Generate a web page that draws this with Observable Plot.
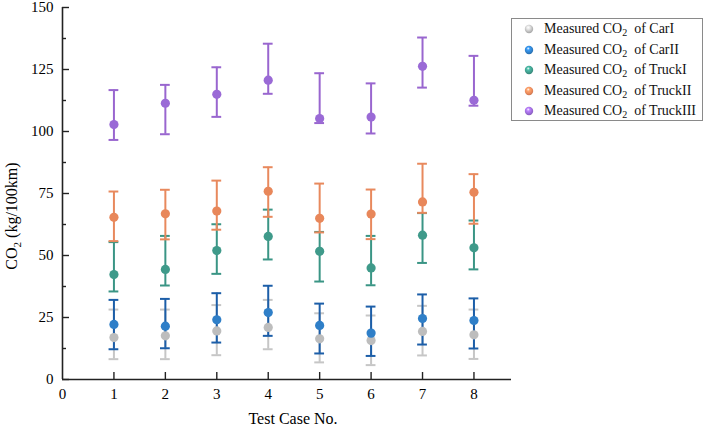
<!DOCTYPE html>
<html>
<head>
<meta charset="utf-8">
<script src="https://cdn.jsdelivr.net/npm/d3@7"></script>
<script src="https://cdn.jsdelivr.net/npm/@observablehq/plot@0.6"></script>
<style>
  body { margin: 0; background: #fff; }
  #wrap { position: relative; width: 706px; height: 429px; font-family: "Liberation Serif", "Times New Roman", serif; }
  #chart svg text { font-family: "Liberation Serif", "Times New Roman", serif; }
  #legend { position: absolute; left: 511px; top: 18px; width: 192px; height: 103px; border: 1px solid #8a8a8a; background: #fff; box-sizing: border-box; }
  .row { position: absolute; left: 0; height: 20px; display: flex; align-items: center; font-size: 14px; color: #111; white-space: pre; }
  .row svg { margin-left: 12px; margin-right: 10px; }
  sub { font-size: 10px; vertical-align: -3px; line-height: 0; }
</style>
</head>
<body>
<div id="wrap"><div id="chart"></div><div id="legend"></div></div>
<script>
const cases = [1, 2, 3, 4, 5, 6, 7, 8];
const seriesNames = ["CarI", "CarII", "TruckI", "TruckII", "TruckIII"];
const dotColors = ["#bdbdbd", "#2f7fc8", "#3f9a8a", "#e8875a", "#9a6ad6"];
const barColors = ["#c6c6c6", "#1c5ea8", "#3a9585", "#e8895d", "#9966cf"];

const meanCarI     = [16.9, 17.6, 19.6, 21.0, 16.4, 15.7, 19.4, 18.0];
const lowCarI      = [8.2, 8.2, 9.8, 12.2, 6.9, 5.8, 9.7, 8.3];
const highCarI     = [28.2, 28.2, 30.0, 32.1, 26.7, 25.8, 29.7, 28.2];

const meanCarII    = [22.2, 21.5, 24.1, 27.0, 21.8, 18.7, 24.6, 23.8];
const lowCarII     = [12.2, 12.6, 14.9, 17.6, 10.5, 9.5, 14.1, 12.5];
const highCarII    = [32.1, 32.5, 34.8, 37.8, 30.6, 29.4, 34.3, 32.7];

const meanTruckI   = [42.3, 44.4, 52.0, 57.7, 51.7, 45.0, 58.2, 53.1];
const lowTruckI    = [35.5, 37.9, 42.6, 48.4, 39.5, 38.0, 47.0, 44.4];
const highTruckI   = [55.4, 57.9, 62.6, 68.5, 59.5, 57.9, 67.1, 64.1];

const meanTruckII  = [65.4, 66.8, 67.9, 75.9, 65.0, 66.7, 71.6, 75.5];
const lowTruckII   = [55.8, 56.5, 60.4, 65.6, 59.3, 56.6, 67.2, 62.8];
const highTruckII  = [75.8, 76.5, 80.2, 85.6, 79.0, 76.6, 87.0, 82.8];

const meanTruckIII = [102.8, 111.4, 115.0, 120.7, 105.2, 105.8, 126.3, 112.6];
const lowTruckIII  = [96.6, 98.9, 105.9, 115.2, 103.4, 99.2, 117.7, 110.4];
const highTruckIII = [116.7, 118.8, 125.9, 135.4, 123.5, 119.4, 137.9, 130.5];

const yMajor = [0, 25, 50, 75, 100, 125, 150];
const yMinor = [12.5, 37.5, 62.5, 87.5, 112.5, 137.5];
const xTicks = [1, 2, 3, 4, 5, 6, 7, 8];
const xLabels = [0, 1, 2, 3, 4, 5, 6, 7, 8];

const means = [meanCarI, meanCarII, meanTruckI, meanTruckII, meanTruckIII];
const lows = [lowCarI, lowCarII, lowTruckI, lowTruckII, lowTruckIII];
const highs = [highCarI, highCarII, highTruckI, highTruckII, highTruckIII];

const rows = [];
seriesNames.forEach((s, i) => cases.forEach((c, j) => rows.push({series: i, c, mean: means[i][j], lo: lows[i][j], hi: highs[i][j]})));

const capHalf = 0.095;
const marks = [];
seriesNames.forEach((s, i) => {
  const d = rows.filter(r => r.series === i);
  marks.push(Plot.ruleX(d, {x: "c", y1: "lo", y2: "hi", stroke: barColors[i], strokeWidth: 2}));
  marks.push(Plot.ruleY(d, {y: "hi", x1: r => r.c - capHalf, x2: r => r.c + capHalf, stroke: barColors[i], strokeWidth: 2}));
  marks.push(Plot.ruleY(d, {y: "lo", x1: r => r.c - capHalf, x2: r => r.c + capHalf, stroke: barColors[i], strokeWidth: 2}));
});
seriesNames.forEach((s, i) => {
  const d = rows.filter(r => r.series === i);
  marks.push(Plot.dot(d, {x: "c", y: "mean", r: 4.6, fill: dotColors[i], stroke: "none"}));
});

const serif = "'Liberation Serif', 'Times New Roman', serif";
const blank = () => "";
const chart = Plot.plot({
  width: 706, height: 429,
  marginLeft: 62, marginRight: 195, marginTop: 7, marginBottom: 50,
  style: {fontFamily: serif, fontSize: "15px", color: "#000", background: "#fff"},
  x: {domain: [0, 8.73], label: null},
  y: {domain: [0, 150], label: null},
  marks: [
    ...marks,
    Plot.ruleX([0], {stroke: "#222", strokeWidth: 1.6}),
    Plot.ruleY([0], {stroke: "#222", strokeWidth: 1.6}),
    Plot.axisY({ticks: yMajor, tickSize: 7, dx: 7, tickFormat: blank, label: null, stroke: "#222", strokeWidth: 1.4}),
    Plot.axisY({ticks: yMinor, tickSize: 4, dx: 4, tickFormat: blank, label: null, stroke: "#222", strokeWidth: 1.4}),
    Plot.axisY({ticks: yMajor, tickSize: 0, tickPadding: 9, fontSize: 15, fontFamily: serif, fill: "#000", label: null}),
    Plot.axisX({ticks: xTicks, tickSize: 7, dy: -7, tickFormat: blank, label: null, stroke: "#222", strokeWidth: 1.4}),
    Plot.axisX({ticks: xLabels, tickSize: 0, tickPadding: 9, fontSize: 15, fontFamily: serif, fill: "#000", label: null})
  ]
});
document.getElementById("chart").appendChild(chart);

// gradients for sphere-like dots
const svg = d3.select(chart);
const defs = svg.insert("defs", ":first-child");
function addGrad(defsSel, id, color) {
  const g = defsSel.append("radialGradient").attr("id", id).attr("cx", "45%").attr("cy", "40%").attr("r", "60%").attr("fx", "40%").attr("fy", "30%");
  const c = d3.color(color);
  g.append("stop").attr("offset", "0%").attr("stop-color", "#ffffff");
  g.append("stop").attr("offset", "30%").attr("stop-color", c.brighter(0.6).formatHex());
  g.append("stop").attr("offset", "75%").attr("stop-color", color);
  g.append("stop").attr("offset", "100%").attr("stop-color", c.darker(0.4).formatHex());
}
dotColors.forEach((col, i) => addGrad(defs, "sph" + i, col));
svg.selectAll("circle").each(function() {
  const f = d3.color(this.getAttribute("fill"));
  if (!f) return;
  const idx = dotColors.findIndex(c => d3.color(c).formatHex() === f.formatHex());
  if (idx >= 0) this.setAttribute("fill", `url(#sph${idx})`);
});

// axis titles
const yl = svg.append("text")
  .attr("transform", "translate(17,216) rotate(-90)")
  .attr("text-anchor", "middle")
  .attr("font-size", 16).attr("fill", "#000");
yl.append("tspan").text("CO");
yl.append("tspan").attr("font-size", 11).attr("dy", 4).text("2");
yl.append("tspan").attr("dy", -4).text(" (kg/100km)");

svg.append("text")
  .attr("x", 293).attr("y", 424)
  .attr("text-anchor", "middle")
  .attr("font-size", 16).attr("fill", "#000")
  .text("Test Case No.");

// legend
const legend = document.getElementById("legend");
seriesNames.forEach((s, i) => {
  const row = document.createElement("div");
  row.className = "row";
  row.style.top = (i * 20.5) + "px";
  row.innerHTML = `<svg width="10" height="10"><defs></defs><circle cx="5" cy="5" r="4.2"></circle></svg><span>Measured CO<sub>2</sub>  of ${s}</span>`;
  legend.appendChild(row);
  const ls = d3.select(row).select("svg");
  addGrad(ls.select("defs"), "lg" + i, dotColors[i]);
  ls.select("circle").attr("fill", `url(#lg${i})`);
});
</script>
</body>
</html>
